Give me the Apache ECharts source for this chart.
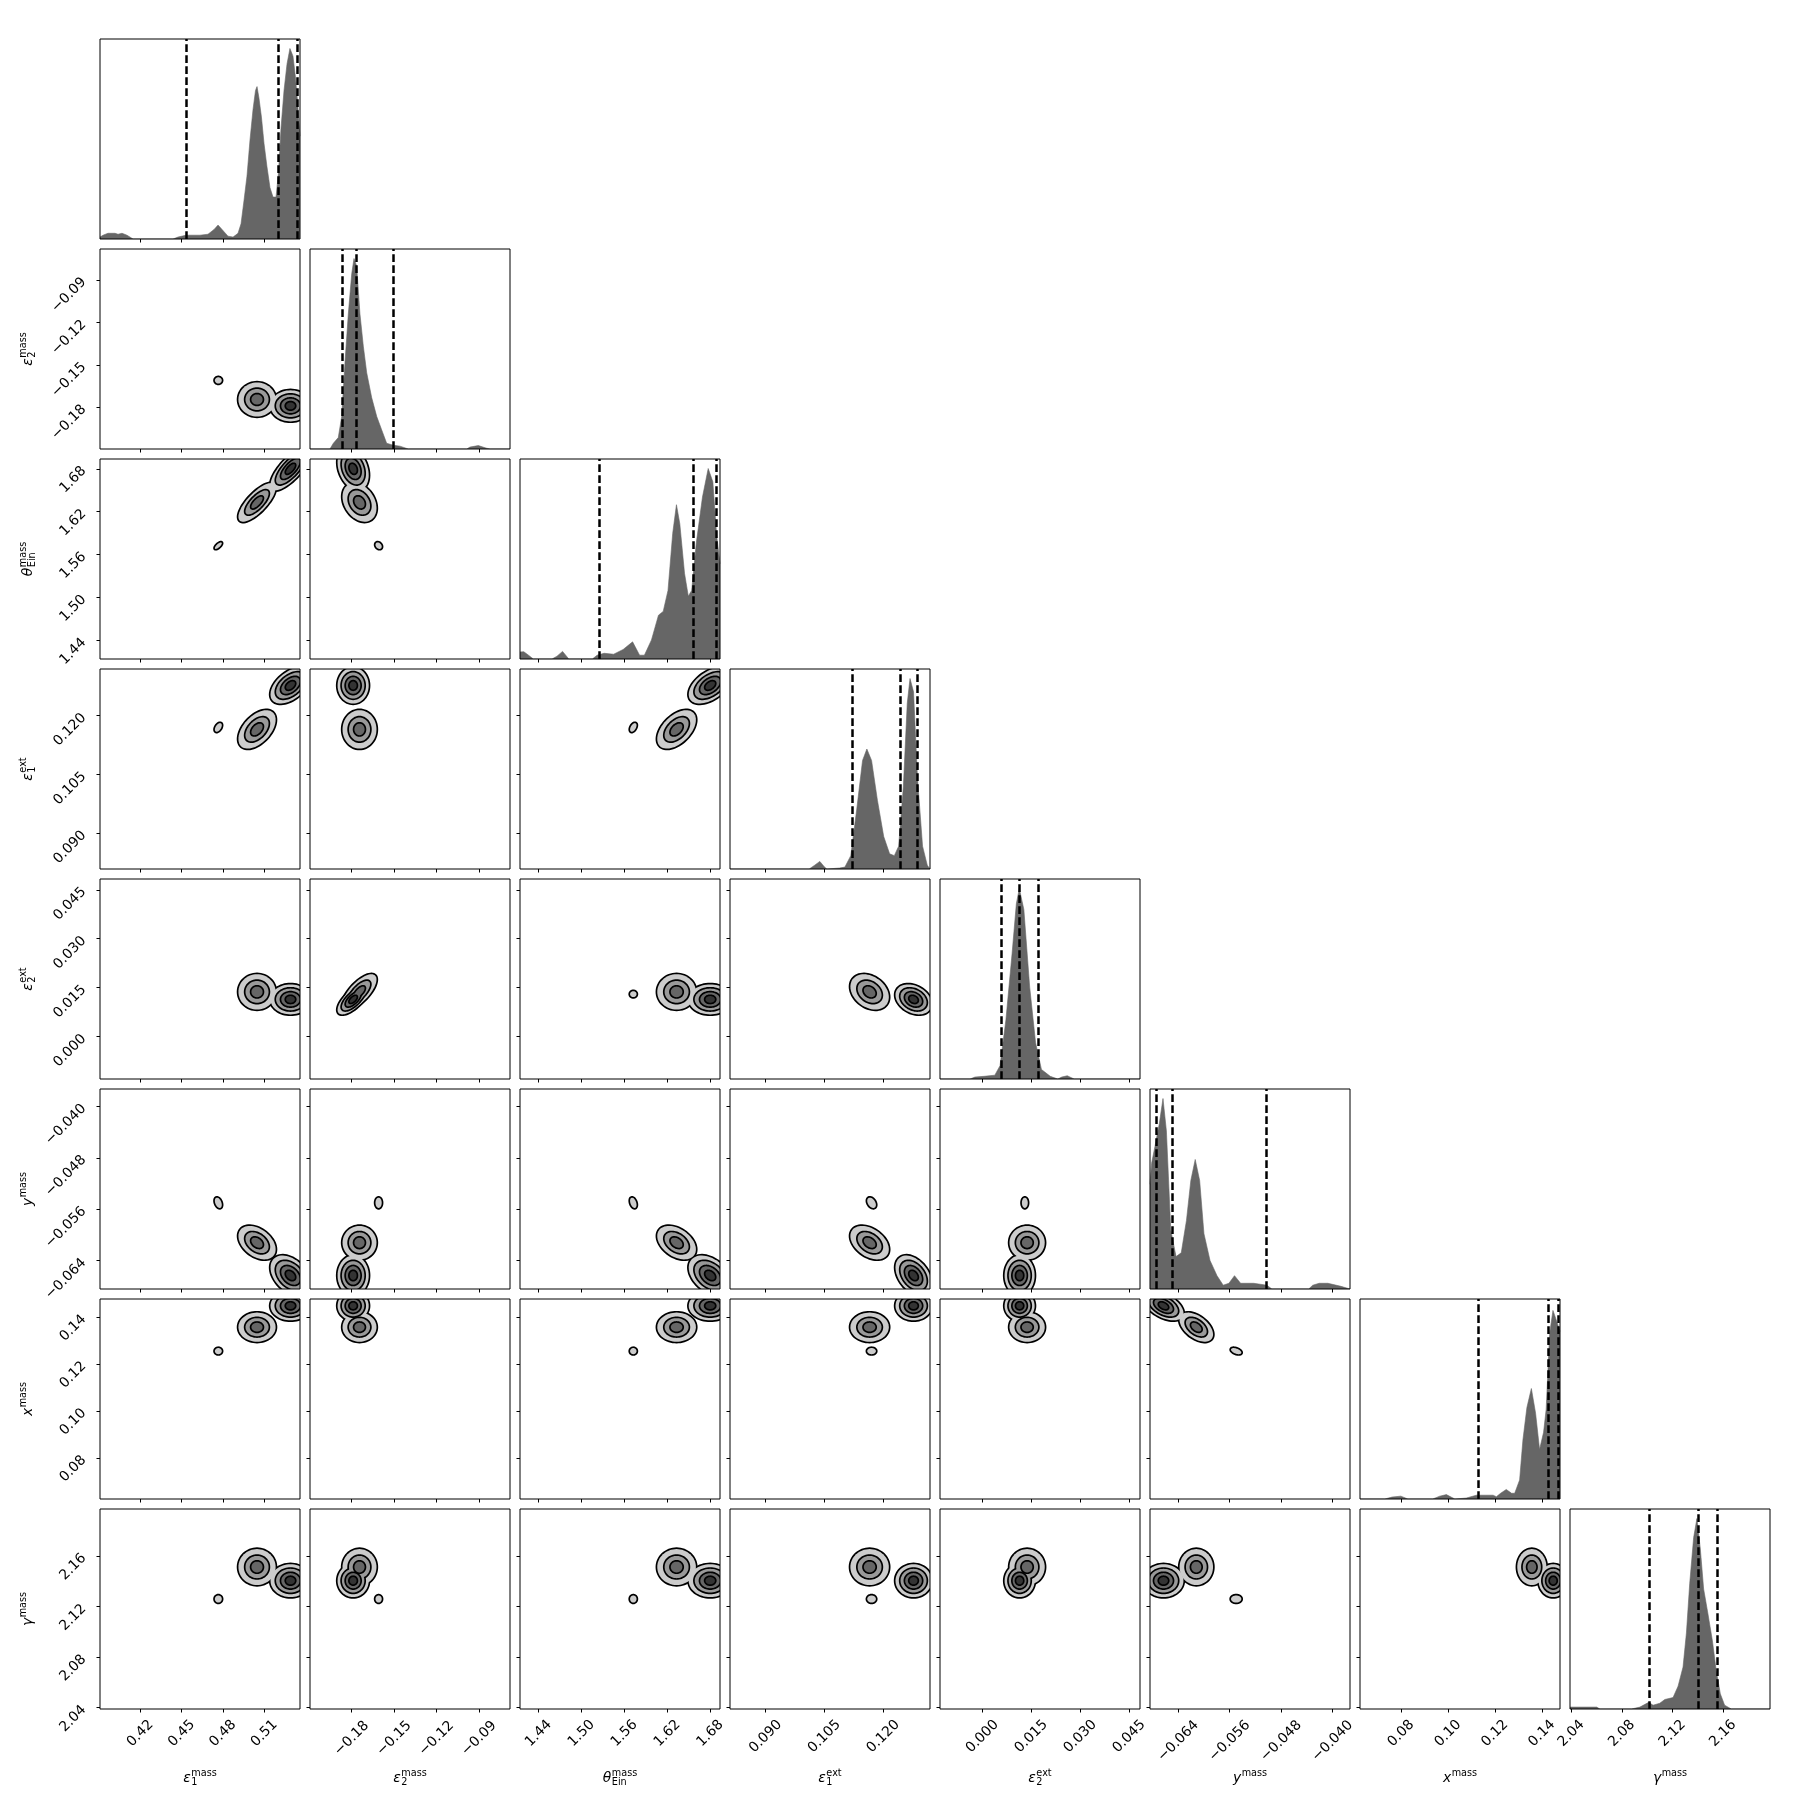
<!DOCTYPE html>
<html>
<head>
<meta charset="utf-8">
<script src="https://cdn.jsdelivr.net/npm/echarts@6.0.0/dist/echarts.min.js"></script>
<style>
  html, body { margin: 0; padding: 0; background: #fff; }
  #corner { width: 1809px; height: 1809px; }
</style>
</head>
<body>
<div id="corner"></div>
<script>
// parameter order: eps1 mass, eps2 mass, theta_Ein mass, eps1 ext, eps2 ext, y mass, x mass, gamma mass
var labelBase = ['ε', 'ε', 'θ', 'ε', 'ε', 'y', 'x', 'γ'];
var labelSub = ['1', '2', 'Ein', '1', '2', '', '', ''];
var labelSup = ['mass', 'mass', 'mass', 'ext', 'ext', 'mass', 'mass', 'mass'];

// axis ranges
var ranges = [
  [0.3907, 0.5359],
  [-0.2095, -0.0681],
  [1.4141, 1.6937],
  [0.0809, 0.1319],
  [-0.0130, 0.0483],
  [-0.0684, -0.0373],
  [0.0625, 0.1477],
  [2.0390, 2.1972]
];

// tick values and decimals
var ticks = [
  [0.42, 0.45, 0.48, 0.51],
  [-0.18, -0.15, -0.12, -0.09],
  [1.44, 1.50, 1.56, 1.62, 1.68],
  [0.090, 0.105, 0.120],
  [0.000, 0.015, 0.030, 0.045],
  [-0.064, -0.056, -0.048, -0.040],
  [0.08, 0.10, 0.12, 0.14],
  [2.04, 2.08, 2.12, 2.16]
];
var tickDecimals = [2, 2, 2, 3, 3, 3, 2, 2];

// dashed quantile lines (16%, 50%, 84%)
var quantiles = [
  [0.4531, 0.5202, 0.5342],
  [-0.1866, -0.1767, -0.1507],
  [1.5245, 1.6562, 1.6880],
  [0.1122, 0.1243, 0.1286],
  [0.00588, 0.01132, 0.0172],
  [-0.0675, -0.06493, -0.0504],
  [0.1127, 0.1426, 0.1470],
  [2.1018, 2.1402, 2.1553]
];

// 1D marginal histograms, [value, relative density]
var hist0 = [[0.3907,0.01],[0.3929,0.02],[0.3965,0.03],[0.4016,0.03],[0.4038,0.025],[0.4067,0.03],[0.4103,0.02],[0.4147,0],[0.4437,0],[0.4473,0.01],[0.4531,0.02],[0.4633,0.02],[0.4691,0.025],[0.4735,0.05],[0.4764,0.073],[0.4793,0.05],[0.4836,0.015],[0.4873,0.01],[0.4909,0.03],[0.4931,0.08],[0.4952,0.2],[0.4974,0.33],[0.4996,0.52],[0.5018,0.68],[0.5036,0.78],[0.5047,0.80],[0.5061,0.74],[0.5079,0.64],[0.5098,0.5],[0.5119,0.38],[0.5141,0.27],[0.5163,0.22],[0.5185,0.22],[0.5203,0.35],[0.5221,0.58],[0.5243,0.78],[0.5265,0.92],[0.5286,1.0],[0.5308,0.96],[0.5326,0.85],[0.5341,0.72],[0.5359,0.54]];
var hist1 = [[-0.2095,0],[-0.1954,0],[-0.1930,0.03],[-0.1895,0.06],[-0.1871,0.17],[-0.1848,0.45],[-0.1824,0.71],[-0.1800,0.92],[-0.1784,1.0],[-0.1765,0.96],[-0.1742,0.71],[-0.1718,0.54],[-0.1694,0.40],[-0.1659,0.27],[-0.1623,0.17],[-0.1588,0.10],[-0.1553,0.03],[-0.1506,0.02],[-0.1459,0.015],[-0.1400,0],[-0.0987,0],[-0.0964,0.01],[-0.0905,0.018],[-0.0851,0.005],[-0.0822,0],[-0.0681,0]];
var hist2 = [[1.4141,0.037],[1.4194,0.038],[1.4260,0.02],[1.4327,0],[1.4589,0],[1.4659,0.015],[1.4736,0.04],[1.4823,0],[1.5153,0],[1.5219,0.02],[1.5317,0.03],[1.5450,0.025],[1.5583,0.05],[1.5715,0.09],[1.5813,0.02],[1.5880,0.02],[1.5979,0.10],[1.6077,0.23],[1.6143,0.25],[1.6210,0.36],[1.6276,0.66],[1.6328,0.81],[1.6375,0.71],[1.6441,0.45],[1.6494,0.33],[1.6541,0.36],[1.6606,0.61],[1.6692,0.85],[1.6772,1.0],[1.6837,0.93],[1.6890,0.65],[1.6937,0.5]];
var hist3 = [[0.0809,0],[0.1011,0],[0.1025,0.02],[0.1038,0.04],[0.1050,0.01],[0.1056,0],[0.1088,0.005],[0.1102,0.01],[0.1117,0.07],[0.1132,0.31],[0.1147,0.57],[0.1158,0.63],[0.1170,0.57],[0.1185,0.36],[0.1201,0.17],[0.1216,0.08],[0.1228,0.07],[0.1239,0.12],[0.1251,0.43],[0.1261,0.87],[0.1268,1.0],[0.1277,0.93],[0.1287,0.48],[0.1300,0.12],[0.1312,0.02],[0.1319,0]];
var hist4 = [[-0.0130,0],[-0.0038,0],[-0.0023,0.01],[0.0005,0.014],[0.0038,0.02],[0.0054,0.07],[0.0072,0.31],[0.0091,0.66],[0.0104,0.92],[0.0113,1.0],[0.0127,0.89],[0.0145,0.48],[0.0163,0.19],[0.0181,0.05],[0.0208,0.014],[0.0231,0],[0.0243,0.01],[0.0260,0.017],[0.0281,0],[0.0483,0]];
var hist5 = [[-0.0684,0.55],[-0.06815,0.66],[-0.06762,0.75],[-0.06694,0.87],[-0.06638,1.0],[-0.06585,0.83],[-0.06517,0.31],[-0.06435,0.17],[-0.06354,0.19],[-0.06273,0.36],[-0.06205,0.57],[-0.06137,0.68],[-0.06068,0.57],[-0.06001,0.29],[-0.05907,0.15],[-0.05798,0.07],[-0.05702,0.02],[-0.05613,0.03],[-0.05526,0.07],[-0.05431,0.03],[-0.05228,0.03],[-0.05023,0.02],[-0.04945,0],[-0.04372,0],[-0.04309,0.02],[-0.04209,0.03],[-0.04074,0.03],[-0.03871,0.014],[-0.0373,0]];
var hist6 = [[0.0625,0],[0.0731,0],[0.0761,0.01],[0.0799,0.015],[0.0829,0],[0.0935,0],[0.0965,0.015],[0.0993,0.023],[0.1029,0],[0.1078,0.005],[0.1121,0.02],[0.1161,0.02],[0.1192,0.02],[0.1206,0.012],[0.1224,0.03],[0.1248,0.05],[0.1271,0.03],[0.1284,0.03],[0.1305,0.1],[0.1319,0.31],[0.1336,0.48],[0.1355,0.58],[0.1373,0.45],[0.1390,0.26],[0.1397,0.25],[0.1407,0.35],[0.1418,0.47],[0.1433,0.87],[0.1447,0.99],[0.1461,0.94],[0.1477,0.88]];
var hist7 = [[2.0390,0.01],[2.0469,0.01],[2.0601,0.01],[2.0627,0],[2.0877,0],[2.0943,0.01],[2.1013,0.035],[2.1047,0.02],[2.1100,0.03],[2.1140,0.05],[2.1205,0.06],[2.1245,0.12],[2.1284,0.22],[2.1311,0.4],[2.1337,0.66],[2.1368,0.9],[2.1394,1.0],[2.1421,0.84],[2.1447,0.63],[2.1481,0.5],[2.1516,0.36],[2.1547,0.2],[2.1579,0.08],[2.1613,0.02],[2.1666,0],[2.1972,0]];
var hists = [hist0, hist1, hist2, hist3, hist4, hist5, hist6, hist7];

// 2D posterior modes: centre and outer-contour half width per parameter
var modeB_center = [0.5290, -0.1790, 1.680, 0.1277, 0.0114, -0.0663, 0.1448, 2.1405];
var modeB_spread = [0.0145, 0.011, 0.030, 0.0046, 0.0046, 0.0031, 0.0062, 0.013];
var modeB_levels = [1, 0.72, 0.46, 0.22];
var modeA_center = [0.5047, -0.1745, 1.633, 0.1165, 0.0137, -0.0612, 0.1357, 2.1513];
var modeA_spread = [0.0135, 0.012, 0.027, 0.0049, 0.0054, 0.0026, 0.0062, 0.0142];
var modeA_levels = [1, 0.62, 0.3];
var modeC_center = [0.4766, -0.1610, 1.5725, 0.1170, 0.0130, -0.0550, 0.1255, 2.1260];
var modeC_spread = [0.0025, 0.0022, 0.0045, 0.0011, 0.0009, 0.0008, 0.0013, 0.0028];
var modeC_levels = [1];
// panels [x param, y param] where the small mode has no closed contour
var modeC_hidden = [[1, 3], [1, 4], [1, 6], [0, 4], [3, 4], [4, 6], [4, 7], [6, 7]];

// tilt of the blobs in a panel: [param a, param b, correlation]
var pairRho = [[0, 2, 0.75], [1, 2, -0.3], [0, 3, 0.5], [2, 3, 0.5], [1, 4, 0.7], [3, 4, -0.3],
               [0, 5, -0.4], [2, 5, -0.4], [3, 5, -0.4], [5, 6, -0.5]];

var levelFill = ['#cccccc', '#999999', '#666666', '#333333'];

var modes = [
  { center: modeA_center, spread: modeA_spread, levels: modeA_levels, hidden: [] },
  { center: modeB_center, spread: modeB_spread, levels: modeB_levels, hidden: [] },
  { center: modeC_center, spread: modeC_spread, levels: modeC_levels, hidden: modeC_hidden }
];

var K = 8;
var xLabelMargin = [24.5, 29.5, 24.5, 27.5, 27.5, 32, 24.5, 24.5];

function fmt(d) {
  return function (v) { return v.toFixed(d).replace('-', '\u2212'); };
}

function pairCorr(a, b) {
  for (var i = 0; i < pairRho.length; i++) {
    var p = pairRho[i];
    if ((p[0] === a && p[1] === b) || (p[0] === b && p[1] === a)) return p[2];
  }
  return 0;
}

function isHidden(m, px, py) {
  return m.hidden.some(function (h) { return h[0] === px && h[1] === py; });
}

function ellipsePoints(m, px, py, k, rho, api) {
  var pts = [];
  var sx = m.spread[px] * k, sy = m.spread[py] * k;
  var q = Math.sqrt(1 - rho * rho);
  for (var i = 0; i < 64; i++) {
    var t = i / 64 * Math.PI * 2;
    pts.push(api.coord([m.center[px] + sx * Math.cos(t),
                        m.center[py] + sy * (rho * Math.cos(t) + q * Math.sin(t))]));
  }
  return pts;
}

function contourRenderer(px, py) {
  var rho = pairCorr(px, py);
  return function (params, api) {
    var cs = params.coordSys;
    var children = [];
    for (var lev = 0; lev < levelFill.length; lev++) {
      var shapes = [];
      modes.forEach(function (m) {
        if (lev < m.levels.length && !isHidden(m, px, py)) {
          shapes.push(ellipsePoints(m, px, py, m.levels[lev], rho, api));
        }
      });
      // outline first, then fill over it so overlapping blobs merge into one outline
      shapes.forEach(function (pts) {
        children.push({ type: 'polygon', shape: { points: pts },
          style: { fill: 'none', stroke: '#000', lineWidth: 3.4 } });
      });
      shapes.forEach(function (pts) {
        children.push({ type: 'polygon', shape: { points: pts },
          style: { fill: levelFill[lev], lineWidth: 0 } });
      });
    }
    return {
      type: 'group',
      children: children,
      clipPath: { type: 'rect', shape: { x: cs.x, y: cs.y, width: cs.width, height: cs.height } }
    };
  };
}

var grids = [], xAxes = [], yAxes = [], series = [];

function addPanel(row, col) {
  var g = grids.length;
  grids.push({
    left: 100 + 210 * col, top: 39 + 210 * row, width: 200, height: 200,
    show: true, borderColor: '#000', borderWidth: 1, backgroundColor: 'rgba(0,0,0,0)', z: 10
  });
  xAxes.push({
    gridIndex: g, type: 'value', min: ranges[col][0], max: ranges[col][1],
    axisLine: { show: false, onZero: false },
    splitLine: { show: false },
    axisTick: { show: true, length: 3.5, lineStyle: { color: '#000', width: 1 }, customValues: ticks[col] },
    axisLabel: {
      show: row === K - 1, customValues: ticks[col], formatter: fmt(tickDecimals[col]),
      rotate: 45, align: 'center', verticalAlign: 'middle', margin: xLabelMargin[col],
      fontSize: 13.9, fontFamily: 'DejaVu Sans', color: '#000'
    }
  });
  if (row === col) {
    yAxes.push({ gridIndex: g, type: 'value', min: 0, max: 1.05, show: false, splitLine: { show: false } });
    series.push({
      type: 'line', xAxisIndex: g, yAxisIndex: g, data: hists[col],
      symbol: 'none', silent: true,
      lineStyle: { width: 0.6, color: '#666666' },
      areaStyle: { color: '#666666', opacity: 1 },
      markLine: {
        silent: true, precision: 8, symbol: ['none', 'none'], label: { show: false },
        lineStyle: { color: '#000', width: 2.5, type: [7.7, 3.3] },
        data: quantiles[col].map(function (v) { return { xAxis: v }; })
      }
    });
  } else {
    yAxes.push({
      gridIndex: g, type: 'value', min: ranges[row][0], max: ranges[row][1],
      axisLine: { show: false, onZero: false },
      splitLine: { show: false },
      axisTick: { show: true, length: 3.5, lineStyle: { color: '#000', width: 1 }, customValues: ticks[row] },
      axisLabel: {
        show: col === 0, customValues: ticks[row], formatter: fmt(tickDecimals[row]),
        rotate: 45, margin: 16, fontSize: 13.9, fontFamily: 'DejaVu Sans', color: '#000'
      }
    });
    series.push({
      type: 'custom', xAxisIndex: g, yAxisIndex: g, silent: true,
      data: [[ranges[col][0], ranges[row][0]]],
      renderItem: contourRenderer(col, row)
    });
  }
}

for (var r = 0; r < K; r++) {
  for (var c = 0; c <= r; c++) addPanel(r, c);
}

// axis titles built from base glyph + stacked super/subscript
var measureCtx = document.createElement('canvas').getContext('2d');
var baseFont = 'italic 13.9px "DejaVu Sans"';
var smallFont = '9.7px "DejaVu Sans"';
function textWidth(t, font) { measureCtx.font = font; return measureCtx.measureText(t).width; }

function textEl(t, x, y, font) {
  return {
    type: 'text',
    style: { text: t, x: x, y: y, font: font, fill: '#000',
             align: 'left', verticalAlign: 'middle', textAlign: 'left', textVerticalAlign: 'middle' }
  };
}

function axisTitle(p, cx, cy, rot) {
  var wb = textWidth(labelBase[p], baseFont);
  var ws = Math.max(textWidth(labelSup[p], smallFont), labelSub[p] ? textWidth(labelSub[p], smallFont) : 0);
  var x0 = -(wb + ws + 0.5) / 2;
  var kids = [textEl(labelBase[p], x0, 0, baseFont), textEl(labelSup[p], x0 + wb + 0.5, -5, smallFont)];
  if (labelSub[p]) kids.push(textEl(labelSub[p], x0 + wb + 0.5, 4.5, smallFont));
  return { type: 'group', x: cx, y: cy, rotation: rot, children: kids, silent: true };
}

var titles = [];
for (var p = 0; p < K; p++) {
  titles.push(axisTitle(p, 200 + 210 * p, 1778, 0));
  if (p > 0) titles.push(axisTitle(p, 28, 139 + 210 * p, Math.PI / 2));
}

var chart = echarts.init(document.getElementById('corner'));
chart.setOption({
  animation: false,
  backgroundColor: '#fff',
  grid: grids,
  xAxis: xAxes,
  yAxis: yAxes,
  series: series,
  graphic: { elements: titles }
});
</script>
</body>
</html>
